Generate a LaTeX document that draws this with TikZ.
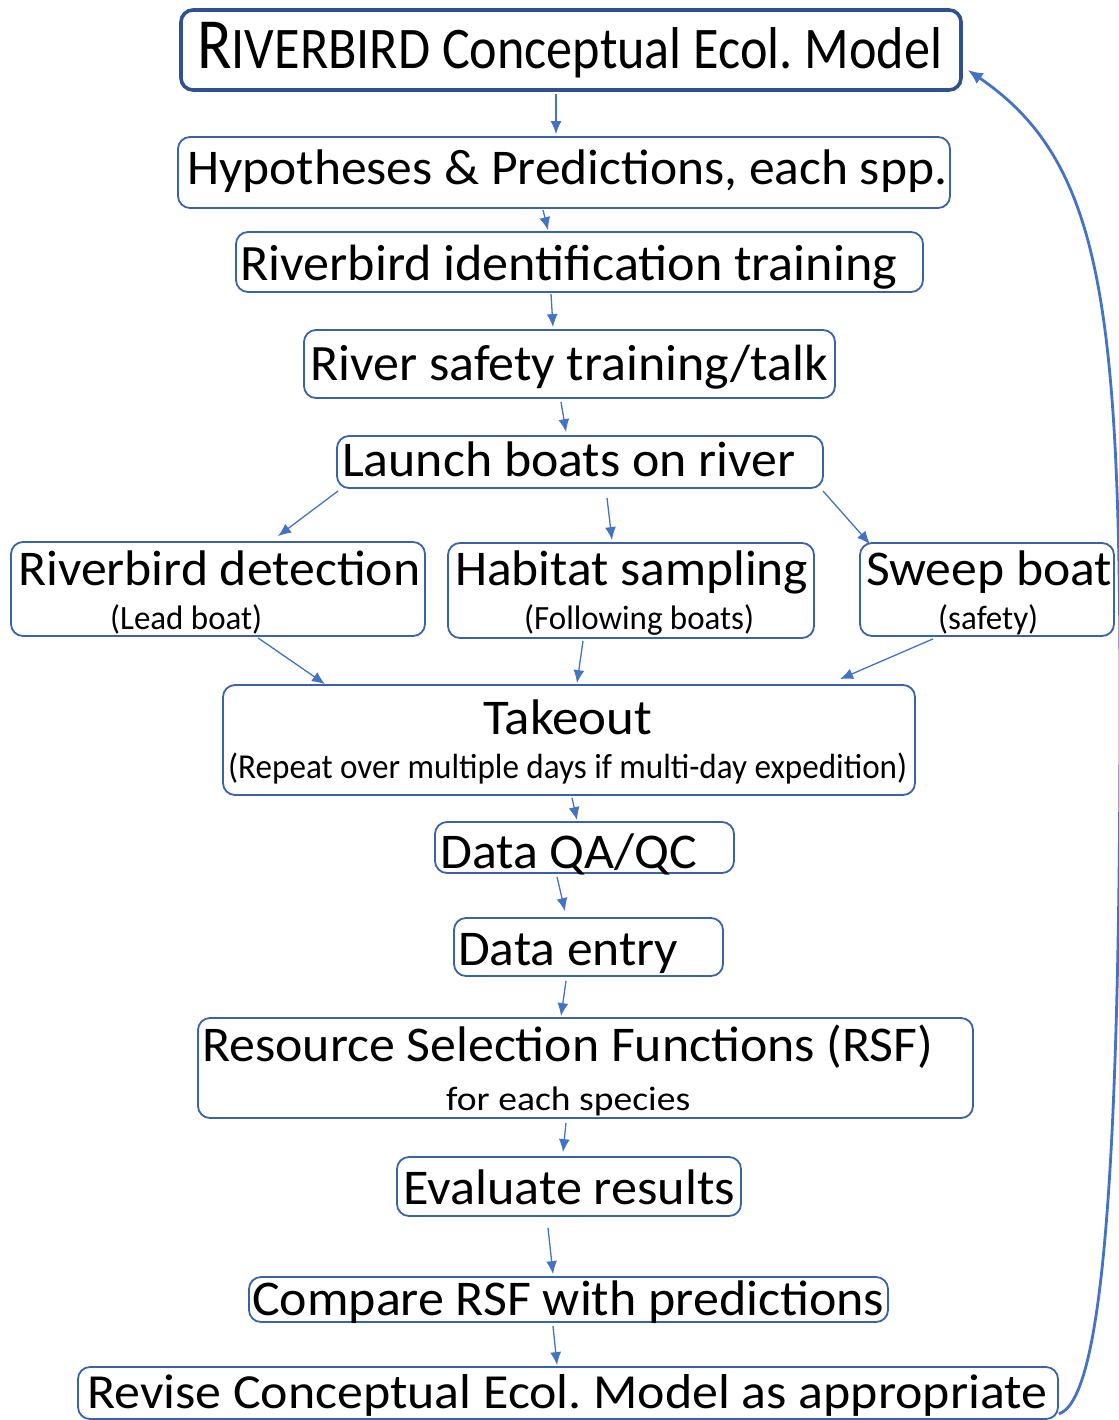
\documentclass[tikz,border=0pt]{standalone}
\usepackage{fontspec}
\setmainfont{Carlito}
\usepackage{graphicx}
\usetikzlibrary{arrows.meta}
\frenchspacing

\definecolor{boxline}{HTML}{3A62AA}
\definecolor{titleline}{HTML}{2F528F}
\definecolor{arrowblue}{HTML}{4472C4}

% text set at a given size, stretched to a given width
\newcommand\sqtext[3]{\resizebox{#1pt}{\height}{\fontsize{#2pt}{#2pt}\selectfont #3}}

\begin{document}
\begin{tikzpicture}[x=1pt, y=-1pt,
  box/.style={draw=boxline, line width=1.8pt, rounded corners=12pt, inner sep=0pt, fill=white},
  titlebox/.style={box, draw=titleline, line width=3.6pt},
  txt/.style={inner sep=0pt, anchor=base west, text=black},
  arr/.style={draw=arrowblue, line width=1.3pt, -{Latex[length=13pt,width=11pt]}},
  fb/.style={draw=arrowblue, line width=2.8pt, -{Latex[length=15pt,width=13pt]}}]

\useasboundingbox (0,0) rectangle (1118,1420);
\fill[white] (0,0) rectangle (1118,1420);

% boxes
\node[titlebox, minimum width=780pt, minimum height=80pt] (title) at (571,50) {};
\node[box, minimum width=772pt, minimum height=71pt] (hyp) at (564,172.5) {};
\node[box, minimum width=687pt, minimum height=60pt] (ident) at (579.5,262) {};
\node[box, minimum width=531pt, minimum height=68pt] (safety) at (569.5,364) {};
\node[box, minimum width=486pt, minimum height=52pt] (launch) at (580,462) {};
\node[box, minimum width=414pt, minimum height=94pt] (detect) at (218,589) {};
\node[box, minimum width=366pt, minimum height=95pt] (habitat) at (631,590.5) {};
\node[box, minimum width=254pt, minimum height=93pt] (sweep) at (987,589.5) {};
\node[box, minimum width=692pt, minimum height=110pt] (takeout) at (569,740) {};
\node[box, minimum width=299pt, minimum height=51pt] (qa) at (584.5,847.5) {};
\node[box, minimum width=269pt, minimum height=58pt] (entry) at (588.5,947) {};
\node[box, minimum width=775pt, minimum height=100pt] (rsf) at (585.5,1068) {};
\node[box, minimum width=344pt, minimum height=59pt] (eval) at (569,1186.5) {};
\node[box, minimum width=639pt, minimum height=45pt] (compare) at (568.5,1299.5) {};
\node[box, minimum width=980pt, minimum height=52pt] (revise) at (568,1393) {};

% box texts
\node[txt] (title-t) at (197,69) {\resizebox{745pt}{\height}{{\fontsize{72pt}{72pt}\selectfont R}{\fontsize{59pt}{59pt}\selectfont IVERBIRD Conceptual Ecol. Model}}};
\node[txt] (hyp-t) at (187,185) {\sqtext{760}{50}{Hypotheses \& Predictions, each spp.}};
\node[txt] (ident-t) at (240,281) {\sqtext{657}{51}{Riverbird identification training}};
\node[txt] (safety-t) at (310,380) {\sqtext{518}{51}{River safety training/talk}};
\node[txt] (launch-t) at (342,476) {\sqtext{453}{50}{Launch boats on river}};
\node[txt] (detect-t) at (18,585) {\sqtext{402}{50}{Riverbird detection}};
\node[txt] (detect-s) at (110,629) {\sqtext{152}{34}{(Lead boat)}};
\node[txt] (habitat-t) at (455,585) {\sqtext{353}{50}{Habitat sampling}};
\node[txt] (habitat-s) at (524,629) {\sqtext{230}{34}{(Following boats)}};
\node[txt] (sweep-t) at (866,585) {\sqtext{246}{50}{Sweep boat}};
\node[txt] (sweep-s) at (938,629) {\sqtext{100}{34}{(safety)}};
\node[txt] (takeout-t) at (483,734) {\sqtext{169}{50}{Takeout}};
\node[txt] (takeout-s) at (228,778) {\sqtext{679}{35}{(Repeat over multiple days if multi-day expedition)}};
\node[txt] (qa-t) at (440,868) {\sqtext{257}{50}{Data QA/QC}};
\node[txt] (entry-t) at (458,965) {\sqtext{220}{50}{Data entry}};
\node[txt] (rsf-t) at (202,1061) {\sqtext{731}{50}{Resource Selection Functions (RSF)}};
\node[txt] (rsf-s) at (446,1110) {\sqtext{244}{34}{for each species}};
\node[txt] (eval-t) at (403,1204) {\sqtext{332}{50}{Evaluate results}};
\node[txt] (compare-t) at (252,1315) {\sqtext{632}{50}{Compare RSF with predictions}};
\node[txt] (revise-t) at (87,1408) {\sqtext{960}{49}{Revise Conceptual Ecol. Model as appropriate}};

% flow connectors
\draw[arr] ([xshift=-15pt,yshift=-2pt]title.south) -- ([xshift=-8pt,yshift=2pt]hyp.north);
\draw[arr] ([xshift=-21pt,yshift=-1pt]hyp.south) -- ([xshift=-31.5pt,yshift=1pt]ident.north);
\draw[arr] ([xshift=-28.5pt,yshift=-1pt]ident.south) -- ([xshift=-16.5pt,yshift=2pt]safety.north);
\draw[arr] ([xshift=-8.5pt,yshift=-3pt]safety.south) -- ([xshift=-14pt,yshift=3pt]launch.north);
\draw[arr] ([xshift=2pt,yshift=-2pt]launch.south west) -- ([xshift=60pt,yshift=5pt]detect.north);
\draw[arr] ([xshift=27pt,yshift=-9pt]launch.south) -- ([xshift=-19pt,yshift=2pt]habitat.north);
\draw[arr] ([xshift=-1pt,yshift=-2pt]launch.south east) -- ([xshift=-117pt,yshift=-2pt]sweep.north);
\draw[arr] ([xshift=40pt,yshift=-1pt]detect.south) -- ([xshift=-244pt,yshift=0pt]takeout.north);
\draw[arr] ([xshift=-48pt,yshift=-2pt]habitat.south) -- ([xshift=8pt,yshift=1pt]takeout.north);
\draw[arr] ([xshift=-54pt,yshift=-2pt]sweep.south) -- ([xshift=271pt,yshift=5pt]takeout.north);
\draw[arr] ([xshift=3pt,yshift=-2pt]takeout.south) -- ([xshift=-7.5pt,yshift=1pt]qa.north);
\draw[arr] ([xshift=-27.5pt,yshift=-3pt]qa.south) -- ([xshift=-23.5pt,yshift=6pt]entry.north);
\draw[arr] ([xshift=-22.5pt,yshift=-4pt]entry.south) -- ([xshift=-24.5pt,yshift=1pt]rsf.north);
\draw[arr] ([xshift=-19.5pt,yshift=-4pt]rsf.south) -- ([xshift=-6pt,yshift=4pt]eval.north);
\draw[arr] ([xshift=-21pt,yshift=-11pt]eval.south) -- ([xshift=-15.5pt,yshift=2pt]compare.north);
\draw[arr] ([xshift=-15.5pt,yshift=-3pt]compare.south) -- ([xshift=-11pt,yshift=1pt]revise.north);

% feedback loop back to the conceptual model
\draw[fb] ([yshift=6pt]revise.south east)
  .. controls (1100,1400) and (1120,1200) .. (1120,700)
  .. controls (1120,300) and (1100,160) .. ([xshift=5pt,yshift=-20pt]title.east);

\end{tikzpicture}
\end{document}
